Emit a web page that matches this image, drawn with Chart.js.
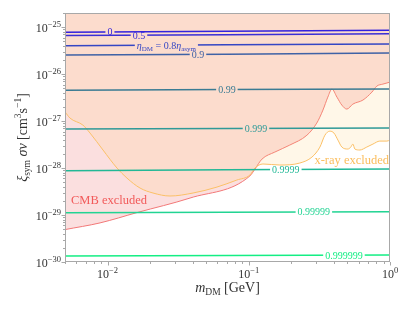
<!DOCTYPE html>
<html>
<head>
<meta charset="utf-8">
<script src="https://cdn.jsdelivr.net/npm/chart.js@4"></script>
<style>
  html, body { margin: 0; padding: 0; background: #fff; }
</style>
</head>
<body>
<canvas id="chart" width="413" height="310"></canvas>
<script>
// contour levels of eta_DM / eta_asym
const levelLabels = ['0', '0.5', '0.8', '0.9', '0.99', '0.999', '0.9999', '0.99999', '0.999999'];
const massGrid = [0.005, 0.07, 1];
const eta0 = [7.8e-26, 8.2e-26, 8.6e-26];
const eta05 = [6.6e-26, 6.9e-26, 7.2e-26];
const eta08 = [4.0e-26, 4.2e-26, 4.35e-26];
const eta09 = [2.55e-26, 2.65e-26, 2.8e-26];
const eta099 = [4.55e-27, 4.7e-27, 4.8e-27];
const eta0999 = [6.8e-28, 6.95e-28, 7.1e-28];
const eta09999 = [8.8e-29, 9.2e-29, 9.5e-29];
const eta099999 = [1.12e-29, 1.15e-29, 1.17e-29];
const eta0999999 = [1.34e-30, 1.38e-30, 1.41e-30];
const levelLines = [eta0, eta05, eta08, eta09, eta099, eta0999, eta09999, eta099999, eta0999999];
// mass where each inline label sits
const labelMass = [0.0104, 0.0167, 0.0261, 0.0437, 0.070, 0.1125, 0.183, 0.289, 0.472];

// CMB bound
const cmbMass = [0.0050, 0.00885, 0.0162, 0.0384, 0.1019, 0.1106, 0.124, 0.153, 0.195, 0.258, 0.303, 0.335,
  0.363, 0.388, 0.421, 0.456, 0.495, 0.546, 0.643, 0.745, 0.807, 0.889, 1.0];
const cmbSigma = [4.9e-30, 6.8e-30, 1.13e-29, 2.3e-29, 6.8e-29, 9.5e-29, 1.55e-28, 2.19e-28, 3.08e-28, 5.0e-28,
  9.06e-28, 1.71e-27, 3.24e-27, 4.8e-27, 3.24e-27, 2.19e-27, 1.80e-27, 2.30e-27, 2.8e-27, 4.14e-27, 5.56e-27,
  6.12e-27, 6.76e-27];

// X-ray bound
const xrayMass = [0.0050, 0.00542, 0.0067, 0.00752, 0.00929, 0.01167, 0.01374, 0.0170, 0.0210, 0.0277, 0.0403,
  0.0596, 0.0824, 0.1019, 0.1106, 0.126, 0.166, 0.230, 0.280, 0.319, 0.346, 0.375, 0.401, 0.428, 0.456, 0.503,
  0.528, 0.546, 0.564, 0.612, 0.685, 0.757, 0.847, 0.951, 1.0];
const xraySigma = [1.58e-27, 1.16e-27, 8.2e-28, 5.56e-28, 2.42e-28, 1.0e-28, 6.1e-29, 3.75e-29, 2.94e-29, 2.54e-29,
  2.94e-29, 3.94e-29, 5.56e-29, 7.1e-29, 1.0e-28, 1.22e-28, 1.16e-28, 1.28e-28, 1.71e-28, 2.8e-28, 5.0e-28,
  6.1e-28, 5.56e-28, 3.94e-28, 2.8e-28, 2.54e-28, 2.8e-28, 3.24e-28, 2.54e-28, 2.42e-28, 2.8e-28, 3.24e-28,
  3.75e-28, 3.75e-28, 3.94e-28];

// tick labels (exponents of 10)
const xTickExp = [-2, -1, 0];
const yTickExp = [-30, -29, -28, -27, -26, -25];

const levelColors = ['#3322dd', '#3a2fd6', '#3546c4', '#3f62a6', '#3a7b93', '#2f9a98', '#22b896', '#22d493', '#14ee84'];
const SERIF = '"Liberation Serif", "DejaVu Serif", serif';

function font(size, italic) {
  return (italic ? 'italic ' : '') + size + 'px ' + SERIF;
}
function richWidth(ctx, parts) {
  let w = 0;
  parts.forEach(p => { ctx.font = font(p.s, p.i); w += ctx.measureText(p.t).width; });
  return w;
}
function drawRich(ctx, parts, x, y, align) {
  const w = richWidth(ctx, parts);
  let cx = align === 'center' ? x - w / 2 : (align === 'right' ? x - w : x);
  ctx.textAlign = 'left';
  ctx.textBaseline = 'alphabetic';
  parts.forEach(p => {
    ctx.font = font(p.s, p.i);
    ctx.fillText(p.t, cx, y + (p.dy || 0));
    cx += ctx.measureText(p.t).width;
  });
}
function levelParts(i) {
  if (i === 2) {
    return [{t: 'η', s: 10, i: true}, {t: 'DM', s: 7, dy: 2}, {t: ' = 0.8', s: 10},
      {t: 'η', s: 10, i: true}, {t: 'asym', s: 7, dy: 2}];
  }
  return [{t: levelLabels[i], s: 10}];
}
function expParts(e) {
  return [{t: '10', s: 12}, {t: '−' + Math.abs(e), s: 8.5, dy: -5.5}].slice(0, e === 0 ? 1 : 2)
    .concat(e === 0 ? [{t: '0', s: 8.5, dy: -5.5}] : []);
}

// where a contour label goes, in pixels
function labelBox(chart, i) {
  const meta = chart.getDatasetMeta(i + 2);
  const px = chart.scales.x.getPixelForValue(labelMass[i]);
  const pts = meta.data;
  let py = pts[0].y;
  for (let k = 0; k < pts.length - 1; k++) {
    if (px >= pts[k].x && px <= pts[k + 1].x) {
      py = pts[k].y + (pts[k + 1].y - pts[k].y) * (px - pts[k].x) / (pts[k + 1].x - pts[k].x);
    }
  }
  const w = richWidth(chart.ctx, levelParts(i));
  return {px, py, w};
}

const decor = {
  id: 'decor',
  beforeDatasetDraw(chart, args) {
    const ds = chart.data.datasets[args.index];
    if (!ds.isLevel) return;
    const b = labelBox(chart, args.index - 2);
    const ctx = chart.ctx;
    ctx.save();
    ctx.beginPath();
    ctx.rect(0, 0, chart.width, chart.height);
    ctx.rect(b.px - b.w / 2 - 2, b.py - 6, b.w + 4, 12);
    ctx.clip('evenodd');
  },
  afterDatasetDraw(chart, args) {
    if (chart.data.datasets[args.index].isLevel) chart.ctx.restore();
  },
  afterDatasetsDraw(chart) {
    const ctx = chart.ctx;
    const a = chart.chartArea;
    const xs = chart.scales.x, ys = chart.scales.y;
    ctx.save();

    // contour labels
    levelLabels.forEach((l, i) => {
      const b = labelBox(chart, i);
      ctx.fillStyle = levelColors[i];
      drawRich(ctx, levelParts(i), b.px, b.py + 3.5, 'center');
    });

    // region names
    ctx.fillStyle = '#f25a5a';
    drawRich(ctx, [{t: 'CMB excluded', s: 12.5}], 71, 204, 'left');
    ctx.fillStyle = '#fbbd5c';
    drawRich(ctx, [{t: 'x-ray excluded', s: 12.5}], 389, 164, 'right');

    // frame
    ctx.strokeStyle = '#a8a8a8';
    ctx.lineWidth = 1;
    ctx.strokeRect(Math.round(a.left) + 0.5, Math.round(a.top) + 0.5,
      Math.round(a.right - a.left) - 1, Math.round(a.bottom - a.top) - 1);

    // tick marks
    ctx.beginPath();
    for (let e = -3; e <= 0; e++) {
      for (let m = 1; m <= 9; m++) {
        const v = m * Math.pow(10, e);
        if (v < xs.min * 0.999 || v > xs.max * 1.001) continue;
        const p = Math.round(xs.getPixelForValue(v)) + 0.5;
        ctx.moveTo(p, a.bottom);
        ctx.lineTo(p, a.bottom + (m === 1 ? 3.5 : 2));
      }
    }
    for (let e = -30; e <= -25; e++) {
      for (let m = 1; m <= 9; m++) {
        const v = m * Math.pow(10, e);
        if (v < ys.min * 0.999 || v > ys.max * 1.001) continue;
        const p = Math.round(ys.getPixelForValue(v)) + 0.5;
        ctx.moveTo(a.left, p);
        ctx.lineTo(a.left - (m === 1 ? 3.5 : 2), p);
      }
    }
    ctx.stroke();

    // tick labels
    ctx.fillStyle = '#333';
    xTickExp.forEach(e => {
      drawRich(ctx, expParts(e), xs.getPixelForValue(Math.pow(10, e)), a.bottom + 16, 'center');
    });
    yTickExp.forEach(e => {
      drawRich(ctx, expParts(e), a.left - 4, ys.getPixelForValue(Math.pow(10, e)) + 5, 'right');
    });

    // axis titles
    drawRich(ctx, [{t: 'm', s: 14, i: true}, {t: 'DM', s: 9.5, dy: 3}, {t: ' [GeV]', s: 14}],
      (a.left + a.right) / 2, 292, 'center');
    ctx.translate(22, (a.top + a.bottom) / 2);
    ctx.rotate(-Math.PI / 2);
    drawRich(ctx, [{t: 'ξ', s: 14, i: true}, {t: 'sym', s: 9.5, dy: 3}, {t: ' σv', s: 14, i: true},
      {t: ' [cm', s: 14}, {t: '3', s: 9.5, dy: -6}, {t: 's', s: 14}, {t: '−1', s: 9.5, dy: -6}, {t: ']', s: 14}],
      0, 5, 'center');
    ctx.restore();
  }
};

const datasets = [];
datasets.push({
  label: 'CMB excluded',
  data: cmbMass.map((m, i) => ({x: m, y: cmbSigma[i]})),
  borderColor: '#f27878', borderWidth: 1,
  backgroundColor: 'rgba(240,128,128,0.25)', fill: 'end',
  pointRadius: 0, cubicInterpolationMode: 'monotone', order: 20
});
datasets.push({
  label: 'x-ray excluded',
  data: xrayMass.map((m, i) => ({x: m, y: xraySigma[i]})),
  borderColor: '#fbc066', borderWidth: 1,
  backgroundColor: 'rgba(255,200,100,0.15)', fill: 'end',
  pointRadius: 0, cubicInterpolationMode: 'monotone', order: 19
});
levelLines.forEach((vals, i) => {
  datasets.push({
    label: levelLabels[i],
    data: massGrid.map((m, k) => ({x: m, y: vals[k]})),
    borderColor: levelColors[i], borderWidth: 1.5,
    fill: false, pointRadius: 0, tension: 0, order: 9 - i, isLevel: true
  });
});

new Chart(document.getElementById('chart'), {
  type: 'line',
  data: {datasets},
  options: {
    responsive: false,
    animation: false,
    devicePixelRatio: 1,
    layout: {padding: {left: 65, right: 23, top: 13, bottom: 48}},
    plugins: {legend: {display: false}, tooltip: {enabled: false}},
    scales: {
      x: {
        type: 'logarithmic', min: 0.005, max: 1,
        ticks: {display: false}, grid: {display: false}, border: {display: false},
        afterFit: s => { s.height = 0; }
      },
      y: {
        type: 'logarithmic', min: 1e-30, max: 2e-25,
        ticks: {display: false}, grid: {display: false}, border: {display: false},
        afterFit: s => { s.width = 0; }
      }
    }
  },
  plugins: [decor]
});
</script>
</body>
</html>
